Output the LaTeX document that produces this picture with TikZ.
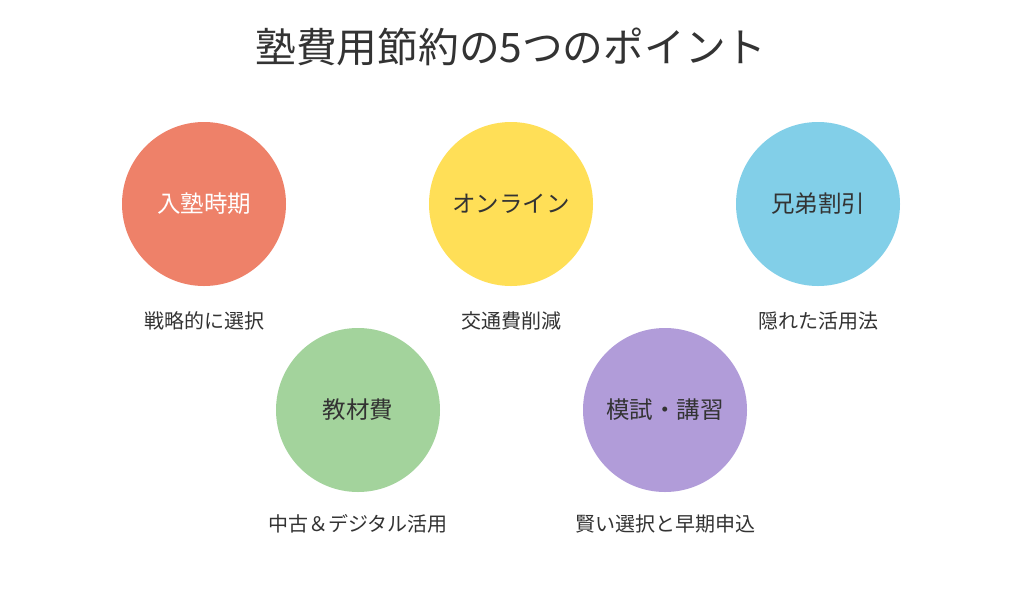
\documentclass[tikz,border=0pt]{standalone}
\usepackage{fontspec}
\setmainfont{Noto Sans CJK JP}
\definecolor{cred}{HTML}{EE8169}
\definecolor{cyellow}{HTML}{FFDF57}
\definecolor{cblue}{HTML}{82CFE8}
\definecolor{cgreen}{HTML}{A3D39C}
\definecolor{cpurple}{HTML}{B19CD9}
\definecolor{ctext}{HTML}{333333}
\begin{document}
\begin{tikzpicture}[x=1pt,y=1pt,
  pt/.style={circle,minimum size=164pt,inner sep=0pt,font=\fontsize{23.5}{28}\selectfont,text=ctext},
  sub/.style={font=\fontsize{20}{24}\selectfont,text=ctext,anchor=center}]
\useasboundingbox[fill=white] (0,0) rectangle (1023,-614);
\node[font=\fontsize{40.7}{48}\selectfont,text=ctext] (title) at (511,-47) {塾費用節約の5つのポイント};
\node[pt,fill=cred,text=white] (c1) at (204,-204) {入塾時期};
\node[pt,fill=cyellow] (c2) at (511,-204) {オンライン};
\node[pt,fill=cblue] (c3) at (818,-204) {兄弟割引};
\node[pt,fill=cgreen] (c4) at (358,-410) {教材費};
\node[pt,fill=cpurple] (c5) at (665,-410) {模試・講習};
\node[sub] (l1) at (204,-321) {戦略的に選択};
\node[sub] (l2) at (511,-321) {交通費削減};
\node[sub] (l3) at (818,-321) {隠れた活用法};
\node[sub] (l4) at (358,-524) {中古＆デジタル活用};
\node[sub] (l5) at (665,-524) {賢い選択と早期申込};
\end{tikzpicture}
\end{document}
